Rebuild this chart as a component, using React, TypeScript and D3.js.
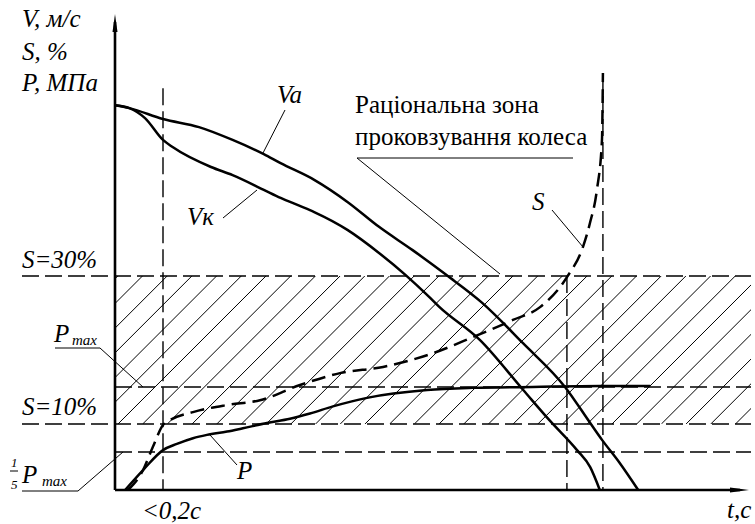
import React from 'react';
import * as d3 from 'd3';

// time axis (s) and a normalised value axis (0..100)
const tVa = [0, 0.06, 0.2, 0.35, 0.49, 0.62, 0.69, 0.83, 0.97, 1.1, 1.24, 1.38, 1.53, 1.7, 1.875, 1.98, 2.03, 2.1, 2.18];
const va = [81, 80.4, 78.1, 76.4, 73.7, 70.7, 68.8, 65.3, 60.6, 55.4, 50.5, 45.3, 39.4, 30.9, 21.7, 14.1, 10.5, 5.9, 0];

const tVk = [0, 0.06, 0.125, 0.2, 0.24, 0.4, 0.49, 0.62, 0.69, 0.77, 0.83, 0.97, 1.1, 1.21, 1.31, 1.35, 1.52, 1.7, 1.81, 1.925, 1.98, 2.02];
const vk = [81, 80.4, 78.3, 73.7, 72.2, 68, 66.3, 63.2, 61.5, 59.8, 58.5, 54.7, 49.9, 45.3, 40.6, 38.6, 31.6, 21.1, 14.7, 8.4, 4.8, 0];

const tS = [0.054, 0.117, 0.158, 0.2, 0.229, 0.325, 0.467, 0.604, 0.771, 0.9375, 1.117, 1.325, 1.492, 1.658, 1.771, 1.883, 1.95, 1.979, 2.008, 2.029, 2.033];
const sVals = [0, 4.2, 9.1, 13.7, 14.7, 16.4, 17.9, 18.9, 22.1, 24.6, 25.9, 28.8, 32.2, 35.8, 38.5, 44.8, 51.2, 56.2, 63.2, 73.7, 87.8];

const tP = [0.042, 0.117, 0.2, 0.258, 0.325, 0.383, 0.467, 0.533, 0.633, 0.729, 0.8125, 0.908, 1.05, 1.3, 1.49, 1.74, 2.02, 2.23];
const pVals = [0, 4.2, 8.4, 9.7, 10.9, 11.6, 12.3, 13.0, 14.1, 15.0, 16.1, 17.6, 19.4, 21.05, 21.5, 21.7, 21.9, 21.9];

// horizontal reference levels
const refNames = ['S30', 'Pmax', 'S10', 'P15'];
const refValues = [45.05, 21.7, 13.9, 8.0];

// vertical time markers
const markT = [0.2, 1.883, 2.033];
const markTop = [84.6, 45.05, 87.8];

const W = 755;
const H = 524;
const font = "'Liberation Serif', 'DejaVu Serif', 'Times New Roman', serif";

export default function App() {
  const x = d3.scaleLinear().domain([0, 2.65]).range([115, 751]);
  const y = d3.scaleLinear().domain([0, 100]).range([490, 15]);

  const mk = (ts: number[], vs: number[]) =>
    d3.line<number>()
      .x((_, i) => x(ts[i]))
      .y((d) => y(d))
      .curve(d3.curveMonotoneX)(vs) as string;

  const zoneTop = y(refValues[0]);
  const zoneBot = y(refValues[2]);
  const zoneH = zoneBot - zoneTop;
  const hatch = d3.range(-7, 27).map((k) => 118 + k * 24.7);

  const dash = '17,6';

  return (
    <svg width={W} height={H} fontFamily={font} style={{ position: 'absolute', left: 0, top: 0, background: '#fff' }}>
      <defs>
        <clipPath id="zone">
          <rect x={x(0)} y={zoneTop} width={x.range()[1] - x(0)} height={zoneH} />
        </clipPath>
      </defs>

      {/* hatched rational slip zone */}
      <g clipPath="url(#zone)" stroke="#000" strokeWidth={1}>
        {hatch.map((h, i) => (
          <line key={i} x1={h} y1={zoneBot} x2={h + zoneH} y2={zoneTop} />
        ))}
      </g>

      {/* reference lines */}
      <g stroke="#000" strokeWidth={1.4} strokeDasharray={dash} fill="none">
        {refValues.map((v, i) => (
          <line key={refNames[i]} x1={i === 0 || i === 2 ? 22 : x(0)} x2={x.range()[1]} y1={y(v)} y2={y(v)} />
        ))}
        {markT.map((t, i) => (
          <line key={i} x1={x(t)} x2={x(t)} y1={y(markTop[i])} y2={y(0)} />
        ))}
      </g>

      {/* curves */}
      <g fill="none" stroke="#000" strokeWidth={2.5} strokeLinejoin="round">
        <path d={mk(tVa, va)} />
        <path d={mk(tVk, vk)} />
        <path d={mk(tP, pVals)} />
        <path d={mk(tS, sVals)} strokeDasharray="14,7" />
      </g>

      {/* axes */}
      <g stroke="#000" strokeWidth={2.6}>
        <line x1={x(0)} y1={y(0)} x2={x(0)} y2={22} />
        <line x1={x(0)} y1={y(0)} x2={740} y2={y(0)} />
      </g>
      <path d={`M${x(0)},14 L${x(0) - 2.5},32 L${x(0) + 2.5},32 Z`} fill="#000" />
      <path d={`M749,${y(0)} L730,${y(0) - 2.5} L730,${y(0) + 2.5} Z`} fill="#000" />

      {/* leader lines */}
      <g stroke="#000" strokeWidth={1} fill="none">
        <polyline points="285,110 263,153" />
        <polyline points="223,218 257,190" />
        <polyline points="552,210 583,247" />
        <polyline points="237,465 210,435" />
        <polyline points="55,348 100,348 143,387" />
        <polyline points="22,491 78,491 123,452" />
        <polyline points="573,158 357,158 500,274" />
        <line x1={10} x2={18} y1={471} y2={471} />
      </g>

      {/* texts */}
      <g fontSize={25} fontStyle="italic" fill="#000">
        <text x={22} y={27}>V, м/с</text>
        <text x={22} y={60}>S, %</text>
        <text x={22} y={91}>P, МПа</text>
        <text x={22} y={268}>S=30%</text>
        <text x={22} y={415}>S=10%</text>
        <text x={142} y={519}>&lt;0,2c</text>
        <text x={727} y={518}>t,c</text>
        <text x={277} y={103}>Va</text>
        <text x={187} y={225}>Vк</text>
        <text x={532} y={210}>S</text>
        <text x={237} y={479}>P</text>
        <text x={54} y={342}>P</text>
        <text x={22} y={483}>P</text>
      </g>
      <g fontSize={15} fontStyle="italic" fill="#000">
        <text x={72} y={345}>max</text>
        <text x={42} y={486}>max</text>
        <text x={11} y={467} fontSize={13}>1</text>
        <text x={11} y={489} fontSize={13}>5</text>
      </g>
      <g fontSize={25} fill="#000">
        <text x={355} y={113}>Раціональна зона</text>
        <text x={355} y={145}>проковзування колеса</text>
      </g>
    </svg>
  );
}
